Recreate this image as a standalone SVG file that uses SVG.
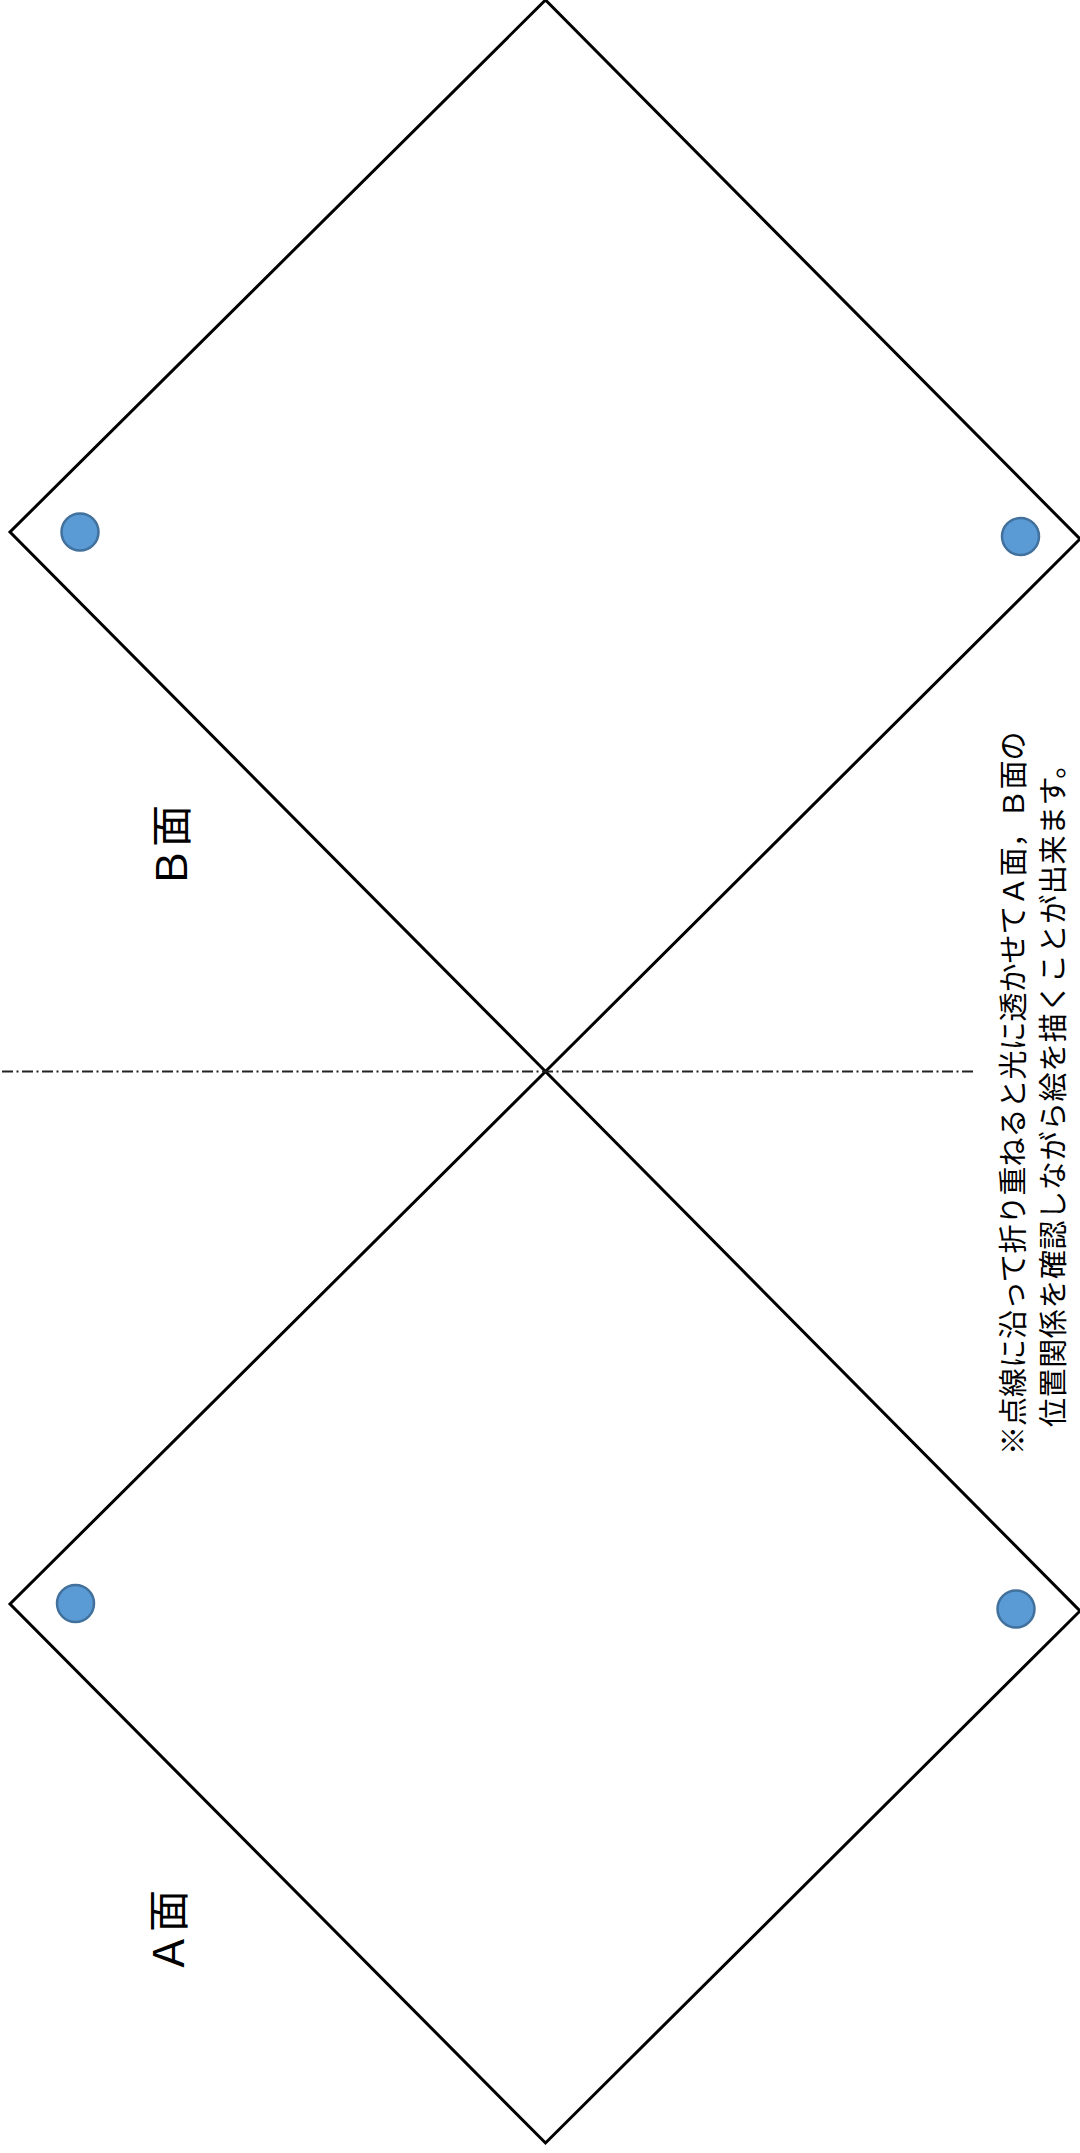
<svg xmlns="http://www.w3.org/2000/svg" width="1080" height="2153" viewBox="0 0 1080 2153">
<style>
.frame{fill:none;stroke:#000;stroke-width:3;stroke-linejoin:miter}
.dot{fill:#5B9BD5;stroke:#41719C;stroke-width:2.5}
.fold{stroke:#222;stroke-width:1.8;stroke-dasharray:11 3.5 2 3.5;fill:none}
.lbl{font-family:"Noto Sans CJK JP","Noto Sans CJK SC",sans-serif;font-size:42px;fill:#000}
.note{font-family:"Noto Sans CJK JP","Noto Sans CJK SC",sans-serif;font-size:29px;fill:#000}
</style>
<rect width="1080" height="2153" fill="#fff"/>
<g id="diamond-B">
<polygon class="frame" points="545.5,0 1080,539 545.5,1071.5 10,532"/>
</g>
<g id="diamond-A">
<polygon class="frame" points="545.5,1071.5 1080,1611 545.5,2143 10,1604"/>
</g>
<g id="connectors">
<line class="fold" x1="2" y1="1071.5" x2="974" y2="1071.5"/>
</g>
<g id="dot-B-left"><circle class="dot" cx="80" cy="532" r="18.5"/></g>
<g id="dot-B-right"><circle class="dot" cx="1020.5" cy="536.5" r="18.5"/></g>
<g id="dot-A-left"><circle class="dot" cx="75.5" cy="1603.5" r="18.5"/></g>
<g id="dot-A-right"><circle class="dot" cx="1016" cy="1609" r="18.5"/></g>
<g id="label-B"><text class="lbl" transform="translate(187,889) rotate(-90)">Ｂ面</text></g>
<g id="label-A"><text class="lbl" transform="translate(184,1974) rotate(-90)">Ａ面</text></g>
<g id="note">
<text class="note" transform="translate(1024,1455) rotate(-90)">※点線に沿って折り重ねると光に透かせてＡ面，Ｂ面の</text>
<text class="note" letter-spacing="0.6" transform="translate(1064,1427) rotate(-90)">位置関係を確認しながら絵を描くことが出来ます。</text>
</g>
</svg>
